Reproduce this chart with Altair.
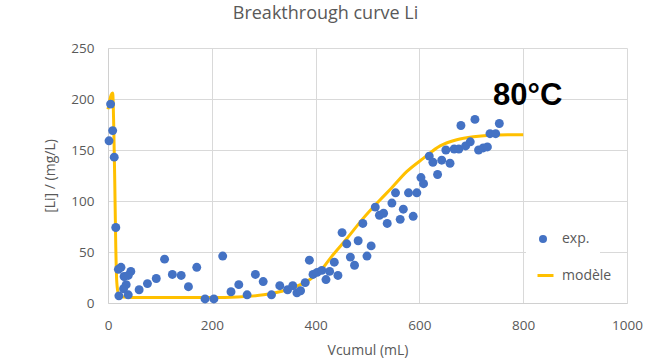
import altair as alt
import pandas as pd

# Experimental points (Vcumul in mL, [Li] in mg/L)
exp_x = [2, 5, 9, 12, 15, 20, 25, 44, 31, 39, 35, 30, 21, 39, 60, 76, 93, 109, 124, 141,
         155, 171, 187, 204, 221, 237, 252, 268, 284, 299, 315, 331, 346, 356, 364, 371,
         380, 388, 395, 403, 412, 420, 427, 436, 443, 451, 460, 467, 475, 482, 491, 499,
         507, 515, 523, 531, 538, 547, 554, 563, 569, 579, 588, 595, 603, 608, 619, 626,
         635, 643, 651, 659, 667, 676, 680, 689, 698, 707, 714, 723, 731, 736, 747, 754]
exp_y = [159, 195, 169, 143, 74, 33, 35, 31, 26, 27, 18, 14, 7, 8, 13, 19, 24, 43, 28, 27,
         16, 35, 4, 4, 46, 11, 18, 8, 28, 21, 8, 17, 13, 17, 10, 12,
         20, 42, 28, 30, 32, 23, 31, 40, 27, 69, 58, 45, 37, 61, 78, 46,
         56, 94, 86, 88, 78, 98, 108, 82, 92, 108, 85, 108, 123, 117, 144, 138,
         126, 140, 150, 137, 151, 151, 174, 154, 158, 180, 150, 152, 153, 166, 166, 176]

# Model curve
model_x = [0, 3, 6, 9, 11, 13, 15, 17, 20, 23, 30, 60, 100, 150, 200, 250, 300, 344, 389,
           410, 430, 460, 490, 524, 545, 576, 608, 640, 672, 704, 736, 770, 800]
model_y = [190, 198, 204, 206, 175, 120, 55, 20, 9, 7, 6, 5.5, 5.5, 5.5, 5.5, 6, 8, 13, 23,
           32, 45, 63, 82, 101, 112, 129, 142, 154, 160, 163, 164.5, 165, 165]

ann_x = [742]
ann_y = [194]
ann_text = ["80°C"]

exp_df = pd.DataFrame({"V": exp_x, "Li": exp_y, "series": "exp."})
mod_df = pd.DataFrame({"V": model_x, "Li": model_y, "series": "modèle"})
ann_df = pd.DataFrame({"V": ann_x, "Li": ann_y, "t": ann_text})

FONT = "Open Sans"
GREY = "#595959"

xs = alt.Scale(domain=[0, 1000], nice=False)
ys = alt.Scale(domain=[0, 250], nice=False)

x_axis = alt.Axis(values=[0, 200, 400, 600, 800, 1000], format="d", title="Vcumul (mL)",
                  labelFontSize=13.5, labelColor=GREY, titleFontSize=14, titleColor=GREY,
                  titleFontWeight="normal", labelFont=FONT, titleFont=FONT,
                  ticks=False, labelPadding=15, titlePadding=12, labelFlush=False,
                  gridColor="#d9d9d9", domainColor="#d0d0d0")
y_axis = alt.Axis(values=[0, 50, 100, 150, 200, 250], format="d", title="[Li] / (mg/L)",
                  labelFontSize=13.5, labelColor=GREY, titleFontSize=14, titleColor=GREY,
                  titleFontWeight="normal", labelFont=FONT, titleFont=FONT,
                  ticks=False, labelPadding=14, titlePadding=13, labelFlush=False,
                  gridColor="#d9d9d9", domainColor="#d0d0d0")

line = alt.Chart(mod_df).mark_line(strokeWidth=3, interpolate="monotone").encode(
    x=alt.X("V:Q", scale=xs, axis=x_axis),
    y=alt.Y("Li:Q", scale=ys, axis=y_axis),
    stroke=alt.Stroke("series:N", scale=alt.Scale(domain=["modèle"], range=["#FFC000"]),
                      legend=alt.Legend(title=None, orient="none", legendX=418, legendY=208,
                                        fillColor="white", padding=10, symbolType="stroke",
                                        symbolStrokeWidth=3, symbolSize=256, labelOffset=7,
                                        labelFontSize=14, labelColor=GREY, labelFont=FONT,
                                        symbolStrokeColor="#FFD966")),
)

pts = alt.Chart(exp_df).mark_circle(size=80, opacity=1).encode(
    x=alt.X("V:Q", scale=xs),
    y=alt.Y("Li:Q", scale=ys),
    color=alt.Color("series:N", scale=alt.Scale(domain=["exp."], range=["#4472C4"]),
                    legend=alt.Legend(title=None, orient="none", legendX=418, legendY=174,
                                      fillColor="white", padding=10, symbolType="circle",
                                      symbolSize=64, labelOffset=12, labelFontSize=14,
                                      labelColor=GREY, labelFont=FONT)),
)

ann = alt.Chart(ann_df).mark_text(font="Liberation Sans", fontSize=31, fontWeight="bold",
                                  color="black", align="left", baseline="alphabetic").encode(
    x=alt.X("V:Q", scale=xs), y=alt.Y("Li:Q", scale=ys), text="t:N")

chart = alt.layer(line, pts, ann).properties(
    width=519, height=255,
    autosize=alt.AutoSizeParams(type="none"),
    padding={"left": 108, "top": 48, "right": 22, "bottom": 60},
    title=alt.TitleParams("Breakthrough curve Li", font=FONT, fontSize=18, color=GREY,
                          fontWeight="normal", anchor="middle", frame="group", dx=-42,
                          offset=18),
).resolve_scale(color="independent").configure_view(stroke=None)

chart.save("out.html", embed_options={"renderer": "svg", "actions": False})
